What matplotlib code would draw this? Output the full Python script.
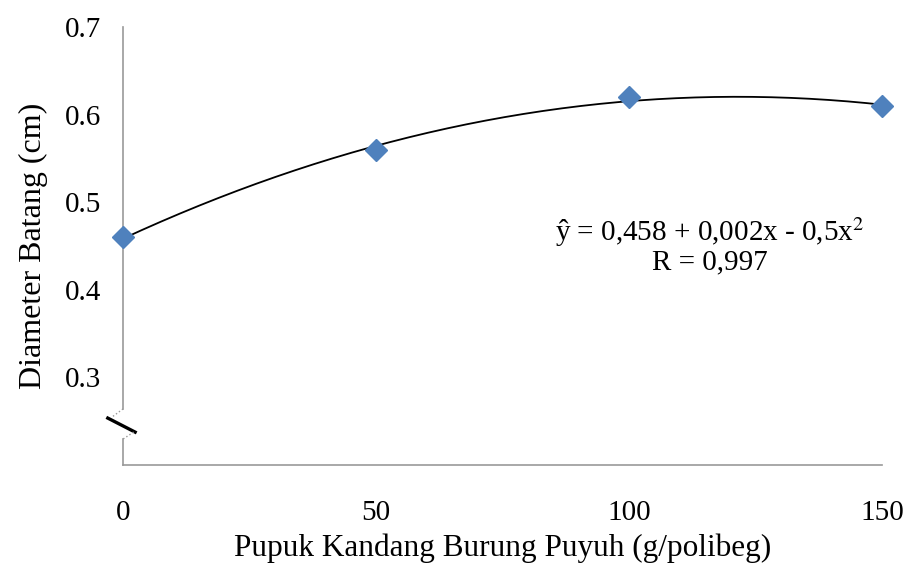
import numpy as np
import matplotlib.pyplot as plt

# data
dosis = [0, 50, 100, 150]
diameter = [0.46, 0.56, 0.62, 0.61]
yticks = [0.3, 0.4, 0.5, 0.6, 0.7]
persamaan = "ŷ = 0,458 + 0,002x - 0,5x$^2$"
r_text = "R = 0,997"

plt.rcParams['font.family'] = ['Liberation Serif', 'DejaVu Serif']
plt.rcParams['mathtext.fontset'] = 'stix'

fig = plt.figure(figsize=(9.09, 5.67), dpi=100)
ax = fig.add_axes([0.1353, 0.180, 0.8350, 0.772])

# quadratic trend line
coef = np.polyfit(dosis, diameter, 2)
xs = np.linspace(0, 150, 200)
ax.plot(xs, np.polyval(coef, xs), color='black', lw=1.3, zorder=2)
ax.plot(dosis, diameter, 'D', color='#4F81BD', markersize=11,
        markeredgecolor='#4F81BD', zorder=3, clip_on=False)

ax.set_xlim(0, 150)
ax.set_ylim(0.2, 0.7)
ax.set_xticks(dosis)
ax.set_yticks(yticks)
ax.set_yticklabels([f"{v:.1f}" for v in yticks])
ax.tick_params(length=0, labelsize=21, pad=16)
ax.tick_params(axis='x', pad=25)

for s in ['top', 'right', 'left']:
    ax.spines[s].set_visible(False)
ax.spines['bottom'].set_color('#999999')
ax.spines['bottom'].set_linewidth(1.2)

# left spine with a break
tr = ax.transAxes
ax.plot([0, 0], [0, 0.059], color='#999999', lw=1.2, transform=tr, clip_on=False)
ax.plot([0, 0], [0.128, 1], color='#999999', lw=1.2, transform=tr, clip_on=False)
ax.plot([-0.020, 0.016], [0.107, 0.075], color='black', lw=2.4, transform=tr, clip_on=False)
ax.plot([0, -0.014], [0.128, 0.110], color='#999999', lw=1, ls=':', transform=tr, clip_on=False)
ax.plot([0.014, 0], [0.075, 0.059], color='#999999', lw=1, ls=':', transform=tr, clip_on=False)

ax.set_xlabel("Pupuk Kandang Burung Puyuh (g/polibeg)", fontsize=22.5, labelpad=6)
ax.set_ylabel("Diameter Batang (cm)", fontsize=23, labelpad=12)

ax.text(116, 0.466, persamaan, fontsize=21, ha='center', va='center')
ax.text(116, 0.431, r_text, fontsize=21, ha='center', va='center')

fig.savefig("out.png", dpi=100)
